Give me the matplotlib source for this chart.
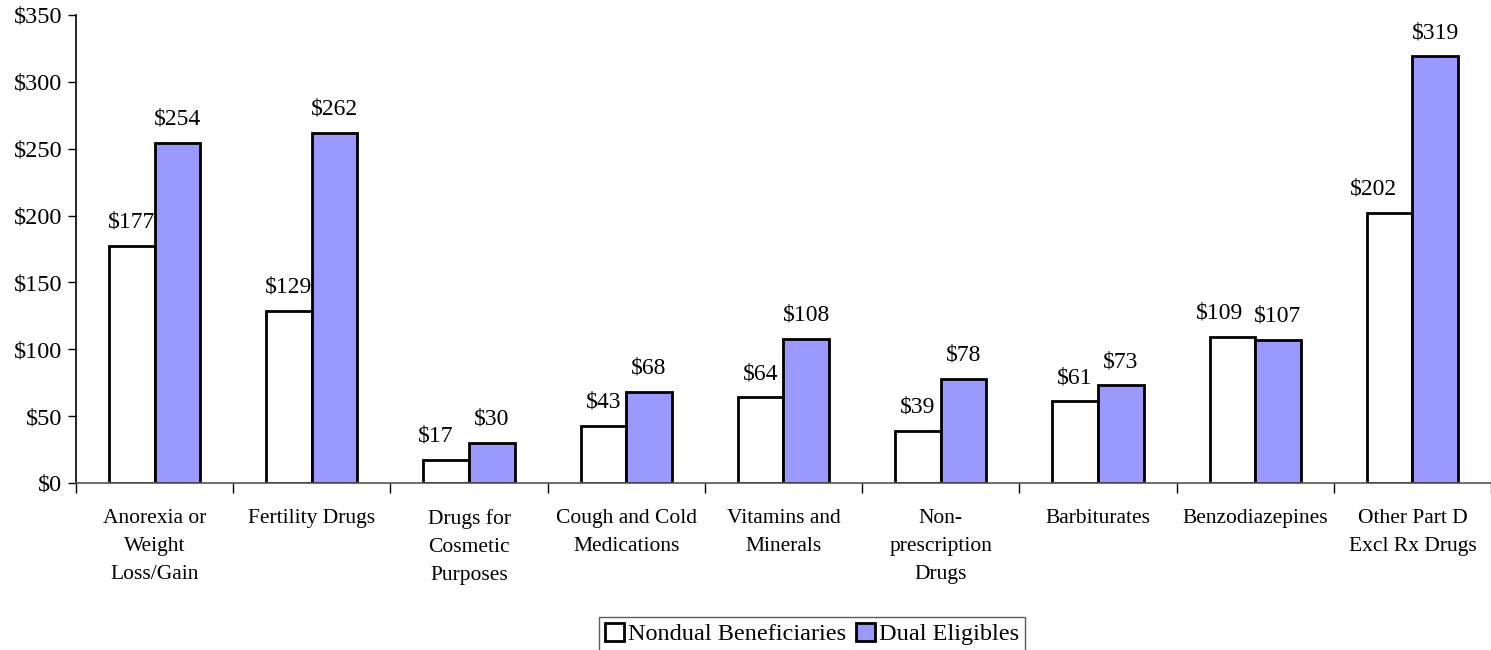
import matplotlib
matplotlib.use("Agg")
import matplotlib.pyplot as plt
import numpy as np
from matplotlib.ticker import FixedLocator, FuncFormatter
from matplotlib.transforms import offset_copy

categories = ["Anorexia or\nWeight\nLoss/Gain", "Fertility Drugs", "Drugs for\nCosmetic\nPurposes",
              "Cough and Cold\nMedications", "Vitamins and\nMinerals", "Non-\nprescription\nDrugs",
              "Barbiturates", "Benzodiazepines", "Other Part D\nExcl Rx Drugs"]
nondual = [177, 129, 17, 43, 64, 39, 61, 109, 202]
dual = [254, 262, 30, 68, 108, 78, 73, 107, 319]
series_names = ["Nondual Beneficiaries", "Dual Eligibles"]

plt.rcParams['font.family'] = ['Liberation Serif', 'DejaVu Serif']

fig = plt.figure(figsize=(14.91, 6.5), dpi=100)
ax = fig.add_axes([76/1491, 1-483/650, 1-76/1491, (483-15)/650])

x = np.arange(len(categories))
w = 0.29
b1 = ax.bar(x - w/2, nondual, w, color='white', edgecolor='black', linewidth=2, label=series_names[0])
b2 = ax.bar(x + w/2, dual, w, color='#9999FF', edgecolor='black', linewidth=2, label=series_names[1])

# label nudges (pixels) where the original shifted labels to avoid crowding
nudge_nondual = {2: -11, 7: -13, 8: -16}
for i, (r, v) in enumerate(zip(b1, nondual)):
    tr = offset_copy(ax.transData, fig=fig, x=nudge_nondual.get(i, 0) * 72 / 100, y=0, units='points')
    ax.text(r.get_x() + r.get_width()/2, v + 10, f"${v}", ha='center', va='bottom', fontsize=17,
            transform=tr)
for r, v in zip(b2, dual):
    ax.text(r.get_x() + r.get_width()/2, v + 10, f"${v}", ha='center', va='bottom', fontsize=17)

ax.set_xlim(-0.5, len(categories) - 0.5)
ax.set_ylim(0, 350)
ax.yaxis.set_major_locator(FixedLocator(np.arange(0, 351, 50)))
ax.yaxis.set_major_formatter(FuncFormatter(lambda v, p: f"${int(v)}"))
ax.tick_params(axis='y', direction='out', length=6, width=1, labelsize=17.5, pad=4)

ax.set_xticks(x)
ax.set_xticklabels(categories, fontsize=15.5, linespacing=1.62, va='top')
ax.tick_params(axis='x', which='major', length=0, pad=19)
ax.set_xticks(np.arange(-0.5, len(categories), 1), minor=True)
ax.tick_params(axis='x', which='minor', length=7, width=1, direction='out')

for s in ['top', 'right']:
    ax.spines[s].set_visible(False)
ax.spines['left'].set_linewidth(1.2)
ax.spines['bottom'].set_color('#555555')
ax.spines['bottom'].set_linewidth(1.2)

leg = fig.legend(loc='center', bbox_to_anchor=(812/1491, 1-634/650), ncol=2, fontsize=17.5,
                 frameon=True, fancybox=False, edgecolor='#333333', handlelength=0.8,
                 handleheight=0.8, handletextpad=0.15, columnspacing=0.4, borderpad=0.25,
                 borderaxespad=0.2)
leg.get_frame().set_linewidth(1.0)

fig.savefig("out.png", dpi=100)
